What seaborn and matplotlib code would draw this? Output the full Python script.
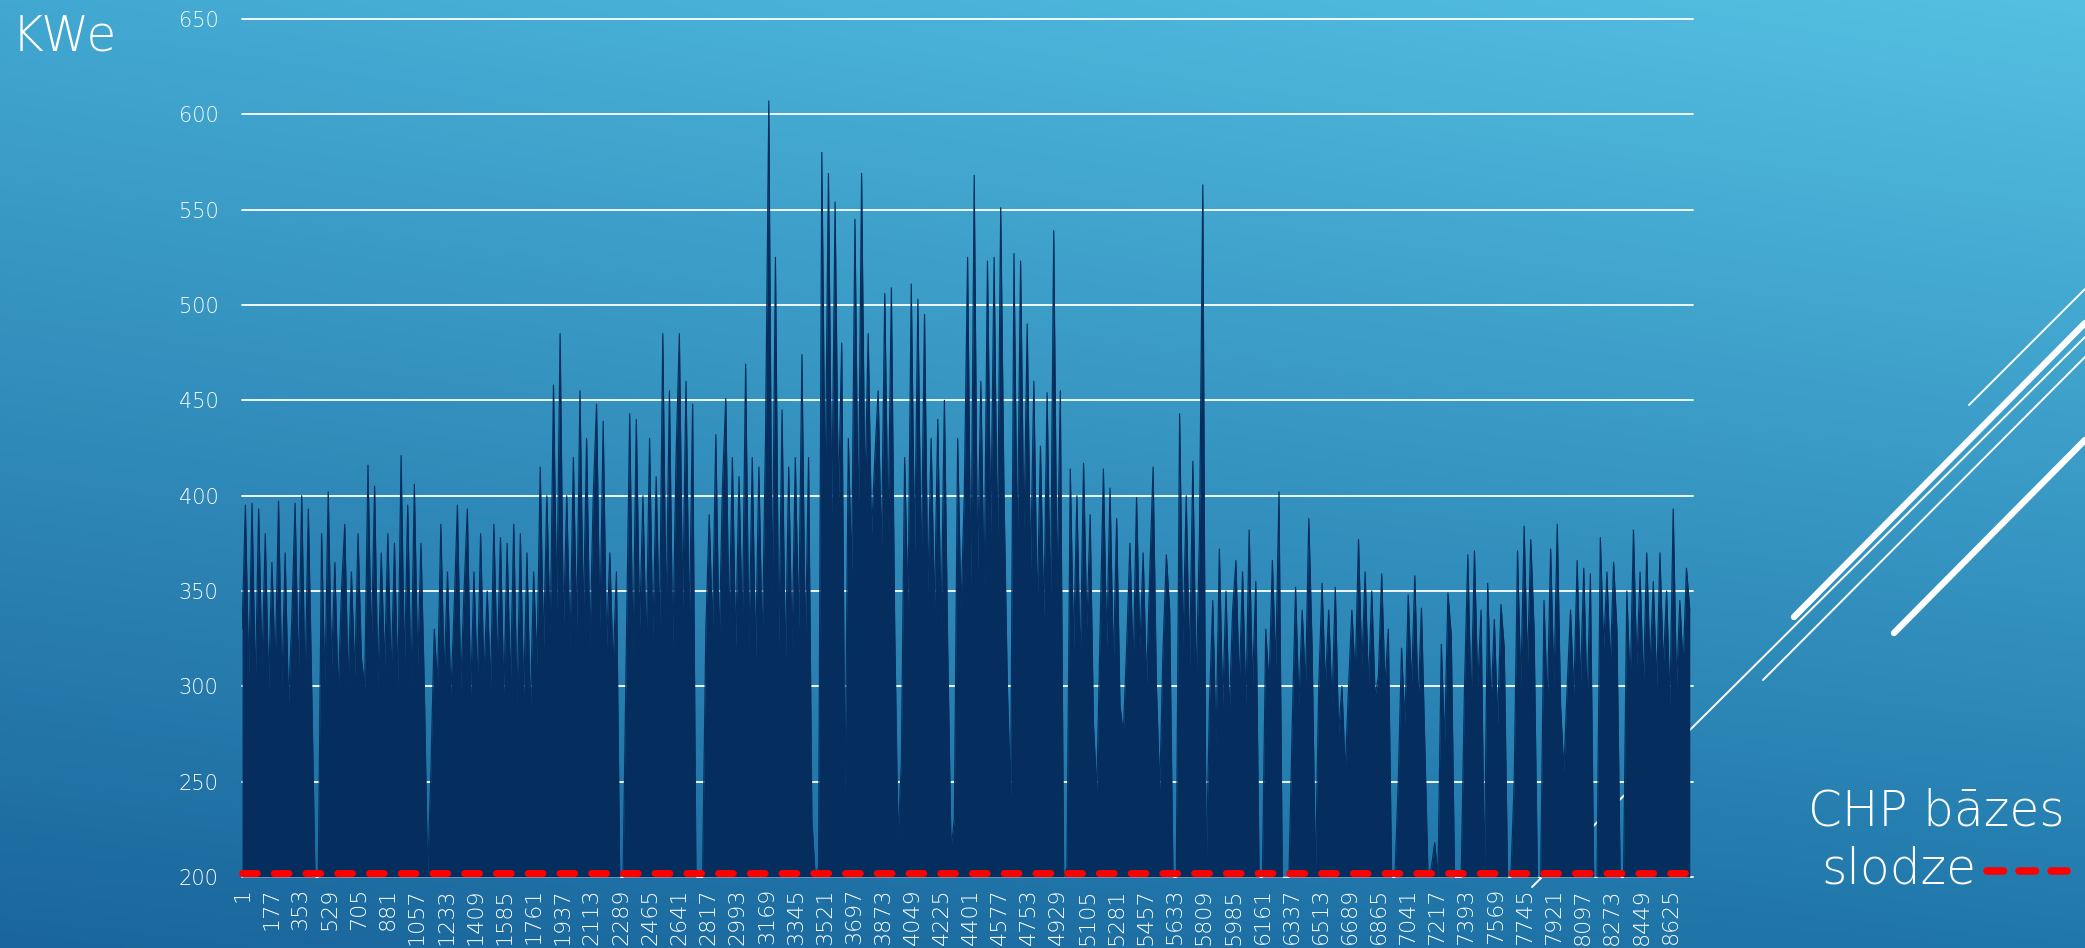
import numpy as np
import matplotlib
matplotlib.use('Agg')
import matplotlib.pyplot as plt
import seaborn as sns
from matplotlib.lines import Line2D
from matplotlib.colors import to_rgb

sns.set_style('white')
plt.rcParams['font.family'] = ['DejaVu Sans']

# hourly electric load (kWe), every 20 hours
step_hours = 20
kwe = [
    # hours 1-440
    330, 395, 305, 396, 300, 393, 310, 380, 300, 365, 310, 397, 300, 370, 290, 335, 396, 305, 400, 300, 393, 300,
    200, 200,
    380, 300, 402, 310, 365, 295, 350, 385, 300, 360, 305, 380, 315, 300, 416, 320, 405, 300, 370, 310, 380, 305,
    375, 300, 421, 310, 395, 300, 406, 310, 375, 300,
    200,
    255, 330, 300, 385, 305, 360, 295, 340, 395, 300, 350, 393, 295, 360, 300, 380, 305, 350, 300, 385, 310, 378,
    295, 375, 300, 385, 290, 380, 295, 370, 285, 360, 310, 415, 320, 400, 325, 458, 340, 485, 330, 400, 320, 420,
    330, 455, 335, 430, 320, 400, 448, 330, 439, 320, 370, 310, 360,
    200, 200,
    320, 443, 315, 440, 330, 400, 320, 430, 325, 410, 330, 485, 335, 455, 320, 420, 485, 340, 460, 330, 448,
    200, 200, 200,
    330, 390, 330, 432, 320, 405, 451, 330, 420, 320, 410, 330, 469, 320, 420, 315, 415, 320, 430, 607, 340, 525,
    320, 445, 310, 415, 320, 420, 330, 474, 320, 420,
    230, 200, 205,
    580, 400, 569, 390, 554, 395, 480,
    240,
    430, 360, 545, 380, 569, 400, 485, 380, 420, 455, 370, 506, 380, 509, 330,
    220, 260,
    420, 340, 511, 370, 503, 360, 495, 350, 430, 340, 440, 330, 450, 320,
    215, 230,
    430, 340, 400, 525, 350, 568, 360, 460, 350, 523, 380, 525, 370, 551, 400,
    300, 242,
    527, 370, 523, 380, 490, 360, 460, 340, 426, 335, 454, 340, 539, 350, 455,
    200, 205,
    414, 320, 400, 310, 417, 330, 390, 280, 245, 330, 414, 320, 404, 310, 388, 290, 275, 320, 375, 310, 399, 320,
    370, 300, 360, 415, 300, 245, 320, 369, 340,
    200, 200,
    443, 320, 400, 310, 418, 300, 380, 563,
    200,
    290, 345, 270, 372, 290, 350, 285, 340, 366, 300, 360, 290, 382, 300, 355,
    200, 200,
    330, 300, 366, 310, 402,
    200, 200, 200,
    280, 352, 290, 340, 300, 388, 320,
    200,
    300, 354, 300, 340, 290, 352, 275, 300,
    255,
    300, 340, 305, 377, 310, 360, 300, 350, 295, 305, 359, 300, 330,
    200, 200,
    250, 320, 280, 348, 300, 358, 290, 341, 270,
    200, 205, 218, 200,
    322, 270, 349, 327,
    200, 200, 200,
    300, 369, 290, 371, 300, 340,
    200,
    354, 290, 335, 280, 343, 320,
    200, 200,
    250, 371, 300, 384, 310, 377, 330,
    200, 200,
    345, 290, 372, 300, 385, 290, 255, 300, 340, 295, 366, 300, 362, 290, 359,
    200, 200,
    378, 320, 360, 310, 365, 330,
    200, 200,
    350, 300, 382, 310, 360, 300, 370, 310, 355, 300, 370, 310, 350, 290, 393, 300, 345, 310, 362, 340,
]
assert len(kwe) == 438
hours = 1 + step_hours * np.arange(len(kwe))

chp_base = 202  # CHP base load
tick_hours = list(range(1, 8760, 176))
y_ticks = list(range(200, 651, 50))

navy = '#052d5e'
W, H = 2085, 948

fig = plt.figure(figsize=(W / 100, H / 100), dpi=100)

# gradient background
bg = fig.add_axes([0, 0, 1, 1], zorder=0)
tl, tr = np.array(to_rgb('#42a8d1')), np.array(to_rgb('#55c0e2'))
bl, br = np.array(to_rgb('#1a669c')), np.array(to_rgb('#2077ab'))
u = np.linspace(0, 1, 400)[None, :, None]
v = np.linspace(0, 1, 200)[:, None, None]
grad = (1 - v) * ((1 - u) * tl + u * tr) + v * ((1 - u) * bl + u * br)
bg.imshow(grad, extent=[0, W, H, 0], aspect='auto', interpolation='bilinear')
bg.set_xlim(0, W)
bg.set_ylim(H, 0)
bg.axis('off')

# decorative diagonal strokes
for (x0, y0, x1, y1, lw) in [(1969, 405, 2085, 289, 1.4),
                             (1794, 617, 2085, 323, 4.6),
                             (1532, 887, 2085, 337, 1.4),
                             (1763, 680, 2085, 357, 1.4),
                             (1894, 633, 2085, 440, 4.6)]:
    bg.add_line(Line2D([x0, x1], [y0, y1], color='white', lw=lw, solid_capstyle='round'))

# legend for the base load line
bg.add_line(Line2D([1986.5, 2066.5], [870.5, 870.5], color='red', lw=5.4,
                   dashes=(2.2, 2.07), dash_capstyle='round'))
bg.text(1808, 826, 'CHP bāzes', color='white', fontsize=35, va='baseline', ha='left', fontweight='light')
bg.text(1821, 884, 'slodze', color='white', fontsize=35, va='baseline', ha='left', fontweight='light')
bg.text(12, 50, 'KWe', color='white', fontsize=35, va='baseline', ha='left', fontweight='light')

# chart
ax = fig.add_axes([242 / W, 1 - 877 / H, (1693 - 242) / W, (877 - 19) / H], zorder=1)
ax.patch.set_alpha(0)
ax.fill_between(hours, 200, kwe, color=navy, lw=0, zorder=2)
sns.lineplot(x=hours, y=kwe, color=navy, lw=0.85, ax=ax, zorder=3)
ax.axhline(chp_base, color='red', lw=5, dashes=(2.14, 2.43), dash_capstyle='round',
           clip_on=False, zorder=4)

ax.set_xlim(0.5, 8760.5)
ax.set_ylim(200, 650)
ax.set_yticks(y_ticks)
ax.set_yticklabels([str(t) for t in y_ticks])
ax.set_xticks(tick_hours)
ax.set_xticklabels([str(t) for t in tick_hours], rotation=90)
ax.grid(axis='y', color='white', lw=1.3)
ax.grid(axis='x', visible=False)
for gl in ax.get_ygridlines():
    gl.set_clip_on(False)
ax.set_axisbelow(True)
for s in ax.spines.values():
    s.set_visible(False)
ax.tick_params(axis='y', length=0, pad=17, labelsize=15, colors='white')
ax.tick_params(axis='x', length=0, pad=8, labelsize=16, colors='white')
for lab in ax.get_xticklabels() + ax.get_yticklabels():
    lab.set_fontweight('light')
ax.set_xlabel('')
ax.set_ylabel('')

fig.savefig('out.png', dpi=100)
